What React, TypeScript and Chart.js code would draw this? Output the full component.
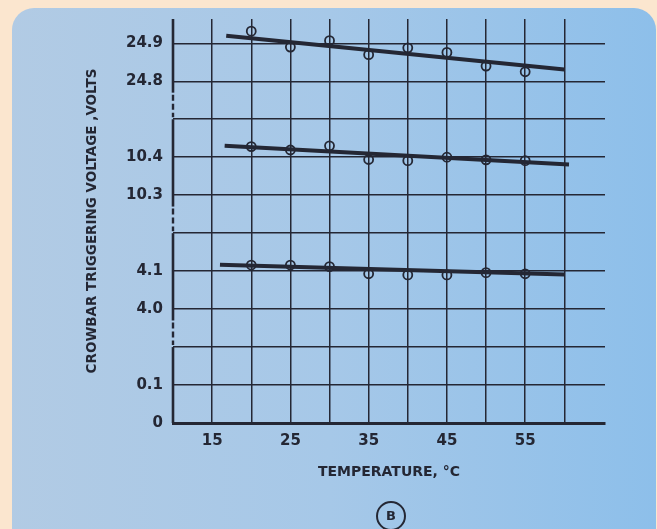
import { useEffect, useRef } from "react";
import { Chart, registerables } from "chart.js";

Chart.register(...registerables);

// ---- data ----
const temperatures = [20, 25, 30, 35, 40, 45, 50, 55];
const volts24 = [24.932, 24.89, 24.907, 24.87, 24.888, 24.876, 24.84, 24.825];
const volts10 = [10.428, 10.419, 10.43, 10.394, 10.391, 10.4, 10.393, 10.391];
const volts4 = [4.116, 4.116, 4.112, 4.093, 4.09, 4.09, 4.096, 4.093];

const fitTemps24 = [16.8, 60];
const fitVolts24 = [24.92, 24.831];
const fitTemps10 = [16.6, 60.6];
const fitVolts10 = [10.43, 10.381];
const fitTemps4 = [16.0, 60];
const fitVolts4 = [4.117, 4.091];

const yTickValues = [0, 0.1, 4.0, 4.1, 10.3, 10.4, 24.8, 24.9];
const yTickLabels = ["0", "0.1", "4.0", "4.1", "10.3", "10.4", "24.8", "24.9"];
const xGridValues = [10, 15, 20, 25, 30, 35, 40, 45, 50, 55, 60];
const xTickLabels = [15, 25, 35, 45, 55];

// broken voltage axis: each segment starts at a base voltage on a given grid row, 0.1 V per row
const segmentBases = [0, 4.0, 10.3, 24.8];
const segmentRows = [0, 3, 6, 9];
const voltsPerRow = 0.1;

function toRow(v: number): number {
  let i = 0;
  for (let k = 0; k < segmentBases.length; k++) if (v >= segmentBases[k] - 1e-9) i = k;
  return segmentRows[i] + (v - segmentBases[i]) / voltsPerRow;
}

const yTickRows = yTickValues.map(toRow);

export default function App() {
  const ref = useRef<HTMLCanvasElement>(null);

  useEffect(() => {
    if (!ref.current) return;
    const ink = "#242734";
    const font = "'DejaVu Sans', sans-serif";

    const pts = (vals: number[]) => temperatures.map((t, i) => ({ x: t, y: toRow(vals[i]) }));
    const fit = (xs: number[], ys: number[]) => xs.map((x, i) => ({ x, y: toRow(ys[i]) }));
    const lineDs = (data: any) => ({
      data,
      showLine: true,
      borderColor: ink,
      borderWidth: 4,
      pointRadius: 0,
      fill: false,
      tension: 0,
      borderCapStyle: "butt",
    });
    const ptDs = (data: any) => ({
      data,
      showLine: false,
      pointRadius: 4.5,
      pointBorderWidth: 1.8,
      pointBorderColor: ink,
      pointBackgroundColor: "rgba(0,0,0,0)",
    });

    const background = {
      id: "background",
      beforeDraw(chart: any) {
        const c = chart.ctx;
        c.save();
        c.fillStyle = "#fbe6cf";
        c.fillRect(0, 0, chart.width, chart.height);
        const g = c.createLinearGradient(0, 0, chart.width, 0);
        g.addColorStop(0, "#b2cbe4");
        g.addColorStop(0.5, "#a6c8e8");
        g.addColorStop(1, "#8dbfea");
        c.fillStyle = g;
        c.beginPath();
        (c as any).roundRect(12, 8, 644, 580, 22);
        c.fill();
        c.restore();
      },
    };

    const extras = {
      id: "extras",
      afterDraw(chart: any) {
        const c = chart.ctx;
        const ys = chart.scales.y;
        const x = chart.chartArea.left;
        const top = ys.max;
        const solid = [
          [top, 8.7],
          [8.0, 5.7],
          [5.0, 2.7],
          [2.0, 0],
        ];
        const dashed = [
          [8.7, 8.0],
          [5.7, 5.0],
          [2.7, 2.0],
        ];
        c.save();
        c.strokeStyle = ink;
        c.lineWidth = 2.6;
        solid.forEach(([a, b]) => {
          c.beginPath();
          c.moveTo(x, ys.getPixelForValue(a));
          c.lineTo(x, ys.getPixelForValue(b));
          c.stroke();
        });
        c.setLineDash([6, 3]);
        c.lineWidth = 2.4;
        dashed.forEach(([a, b]) => {
          c.beginPath();
          c.moveTo(x, ys.getPixelForValue(a) + 2);
          c.lineTo(x, ys.getPixelForValue(b) - 2);
          c.stroke();
        });
        c.setLineDash([]);
        // circled panel letter
        c.lineWidth = 2;
        c.beginPath();
        c.arc(391, 516, 14, 0, Math.PI * 2);
        c.stroke();
        c.fillStyle = ink;
        c.font = `bold 13px ${font}`;
        c.textAlign = "center";
        c.textBaseline = "middle";
        c.fillText("B", 391, 517);
        c.restore();
      },
    };

    const chart = new Chart(ref.current, {
      type: "scatter",
      data: {
        datasets: [
          lineDs(fit(fitTemps24, fitVolts24)),
          lineDs(fit(fitTemps10, fitVolts10)),
          lineDs(fit(fitTemps4, fitVolts4)),
          ptDs(pts(volts24)),
          ptDs(pts(volts10)),
          ptDs(pts(volts4)),
        ] as any,
      },
      options: {
        animation: false,
        responsive: false,
        devicePixelRatio: 1,
        layout: { padding: { left: 0, right: 52, top: 15, bottom: 0 } },
        plugins: { legend: { display: false }, tooltip: { enabled: false } },
        scales: {
          x: {
            type: "linear",
            min: 10,
            max: 65.2,
            afterBuildTicks: (s: any) => {
              s.ticks = xGridValues.map((v) => ({ value: v }));
            },
            afterFit: (s: any) => {
              s.height = 106;
            },
            grid: {
              color: (ctx: any) => (ctx.tick && ctx.tick.value === 10 ? "rgba(0,0,0,0)" : ink),
              lineWidth: 1.5,
              drawTicks: false,
            },
            border: { display: true, color: ink, width: 3 },
            ticks: {
              autoSkip: false,
              maxRotation: 0,
              padding: 9,
              color: ink,
              font: { family: font, size: 15, weight: "bold" },
              callback: (v: any) => (xTickLabels.includes(Number(v)) ? String(v) : ""),
            },
            title: {
              display: true,
              text: "TEMPERATURE, °C",
              color: ink,
              font: { family: font, size: 14, weight: "bold" },
              padding: { top: 0, bottom: 48.6 },
            },
          },
          y: {
            type: "linear",
            min: 0,
            max: 10.64,
            afterBuildTicks: (s: any) => {
              s.ticks = [0, 1, 2, 3, 4, 5, 6, 7, 8, 9, 10].map((v) => ({ value: v }));
            },
            afterFit: (s: any) => {
              s.width = 173;
            },
            grid: { color: ink, lineWidth: 1.5, drawTicks: false },
            border: { display: false },
            ticks: {
              autoSkip: false,
              padding: 10,
              color: ink,
              font: { family: font, size: 15, weight: "bold" },
              callback: (v: any) => {
                const i = yTickRows.findIndex((r) => Math.abs(r - Number(v)) < 1e-6);
                return i >= 0 ? yTickLabels[i] : "";
              },
            },
            title: {
              display: true,
              text: "CROWBAR TRIGGERING VOLTAGE ,VOLTS",
              color: ink,
              font: { family: font, size: 13.5, weight: "bold" },
              padding: { top: 84, bottom: 0 },
            },
          },
        },
      },
      plugins: [background, extras],
    });

    return () => chart.destroy();
  }, []);

  return (
    <div style={{ position: "fixed", left: 0, top: 0, width: 657, height: 529 }}>
      <canvas ref={ref} width={657} height={529} style={{ display: "block", width: 657, height: 529 }} />
    </div>
  );
}
